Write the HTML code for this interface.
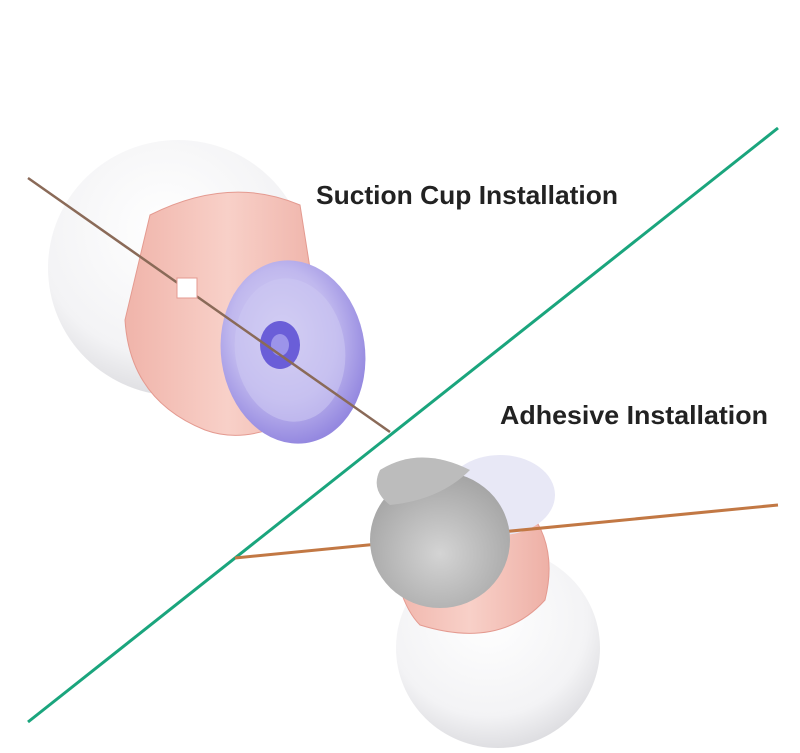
<!DOCTYPE html>
<html><head><meta charset="utf-8"><style>
html,body{margin:0;padding:0;background:#fff;}
svg{display:block}
text{font-family:"Liberation Sans",sans-serif;font-weight:bold;fill:#222}
</style></head><body>
<svg width="800" height="753" viewBox="0 0 800 753">
<defs>
<radialGradient id="bulb" cx="0.45" cy="0.35" r="0.7">
<stop offset="0" stop-color="#ffffff"/><stop offset="0.7" stop-color="#f3f3f5"/><stop offset="1" stop-color="#d8d8dc"/>
</radialGradient>
<linearGradient id="pink" x1="0" y1="0" x2="1" y2="0">
<stop offset="0" stop-color="#f0b4aa"/><stop offset="0.5" stop-color="#f8d0c8"/><stop offset="1" stop-color="#eeb0a6"/>
</linearGradient>
<radialGradient id="purp" cx="0.45" cy="0.4" r="0.6">
<stop offset="0" stop-color="#dcd8f6"/><stop offset="0.6" stop-color="#c0b8ee"/><stop offset="1" stop-color="#9488e0"/>
</radialGradient>
<radialGradient id="grey" cx="0.5" cy="0.6" r="0.6">
<stop offset="0" stop-color="#d4d4d4"/><stop offset="1" stop-color="#a4a4a4"/>
</radialGradient>
</defs>
<rect width="800" height="753" fill="#fff"/>
<line x1="28" y1="722" x2="778" y2="128" stroke="#1aa57d" stroke-width="3"/>

<ellipse cx="178" cy="268" rx="130" ry="128" fill="url(#bulb)"/>
<path d="M150 215 Q230 175 300 205 L330 395 Q260 450 205 430 Q130 400 125 320 Z" fill="url(#pink)" stroke="#e49a90" stroke-width="1"/>
<ellipse cx="293" cy="352" rx="72" ry="92" fill="url(#purp)" transform="rotate(-8 293 352)"/>
<ellipse cx="290" cy="350" rx="55" ry="72" fill="#ccc6f2" opacity="0.6" transform="rotate(-8 290 350)"/>
<ellipse cx="280" cy="345" rx="20" ry="24" fill="#6a5ed8"/>
<ellipse cx="280" cy="345" rx="9" ry="11" fill="#9c94ea"/>
<line x1="28" y1="178" x2="390" y2="432" stroke="#8a6a58" stroke-width="2.5"/>
<rect x="177" y="278" width="20" height="20" fill="#fff" stroke="#e49a90"/>

<ellipse cx="498" cy="648" rx="102" ry="100" fill="url(#bulb)"/>
<line x1="235" y1="558" x2="505" y2="531.6" stroke="#c27844" stroke-width="3"/>
<path d="M390 530 Q450 490 520 500 Q560 540 545 600 Q500 650 420 625 Q395 600 390 530 Z" fill="url(#pink)" stroke="#e49a90"/>
<ellipse cx="500" cy="495" rx="55" ry="40" fill="#e8e8f6"/>
<line x1="505" y1="531.6" x2="778" y2="505" stroke="#c27844" stroke-width="3"/>
<ellipse cx="440" cy="540" rx="70" ry="68" fill="url(#grey)"/>
<path d="M380 470 Q420 445 470 470 Q440 500 390 505 Q370 490 380 470 Z" fill="#bcbcbc"/>

<text x="316" y="204" font-size="26" textLength="302" lengthAdjust="spacingAndGlyphs">Suction Cup Installation</text>
<text x="500" y="424" font-size="26" textLength="268" lengthAdjust="spacingAndGlyphs">Adhesive Installation</text>
</svg>
</body></html>
